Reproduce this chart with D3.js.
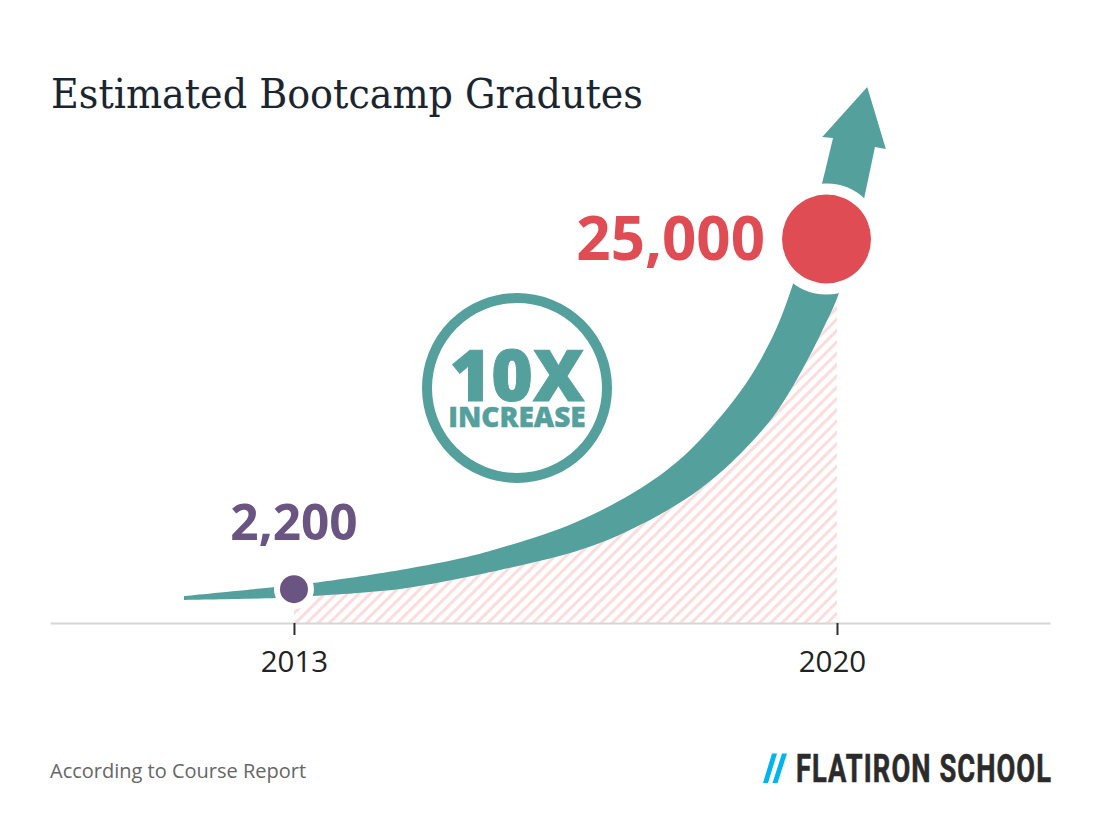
<!DOCTYPE html>
<html>
<head>
<meta charset="utf-8">
<script src="https://cdn.jsdelivr.net/npm/d3@7"></script>
<style>
  html, body { margin: 0; padding: 0; background: #fff; }
  svg { display: block; }
</style>
</head>
<body>
<div id="chart"></div>
<script>
// tick labels and the two labelled points
const tickYears = [2013, 2020];
const pointYears = [2013, 2019.865];
const pointValues = [2200, 25000];
const pointLabels = ["2,200", "25,000"];

// upper edge of the arrow band, tail to head
const upperYears = [2011.582, 2012.756, 2013.245, 2014.367, 2015.230, 2015.656, 2016.081, 2016.519, 2016.945, 2017.370, 2017.809, 2018.234, 2018.814, 2019.136, 2019.291, 2019.433, 2019.626, 2019.807, 2019.949];
const upperValues = [1758, 2344, 2604, 3450, 4297, 4883, 5534, 6315, 7291, 8463, 9960, 11913, 15494, 18293, 20051, 22069, 25129, 28579, 31574];

// arrow head, left barb to inner notch
const headYears = [2019.81, 2020.39, 2020.63, 2020.49];
const headValues = [31639, 34894, 30857, 30988];

// lower edge of the band, head back to tail
const lowerYears = [2020.348, 2020.026, 2019.820, 2019.613, 2019.356, 2019.136, 2018.659, 2018.234, 2017.809, 2017.370, 2016.945, 2016.519, 2016.081, 2015.656, 2015.230, 2014.367, 2013.245, 2012.768, 2011.582];
const lowerValues = [27602, 21483, 19139, 17056, 14778, 13150, 10546, 8723, 7324, 6152, 5208, 4492, 3939, 3450, 2995, 2213, 1758, 1628, 1497];

// hatched area under the curve
const hatchYears = [2013, 2013.245, 2014.367, 2015.230, 2015.656, 2016.081, 2016.519, 2016.945, 2017.370, 2017.809, 2018.234, 2018.659, 2019.136, 2019.356, 2019.613, 2019.820, 2020];
const hatchValues = [1700, 1758, 2213, 2995, 3450, 3939, 4492, 5208, 6152, 7324, 8723, 10546, 13150, 14778, 17056, 19139, 21200];

const width = 1100, height = 833;
const teal = "#54a09d", red = "#e04c53", purple = "#6a5482";

const svg = d3.select("#chart").append("svg")
  .attr("width", width)
  .attr("height", height)
  .style("background-color", "white");

const xScale = d3.scaleLinear().domain([2009.855, 2022.746]).range([50, 1050]);
const yScale = d3.scaleLinear().domain([0, 25000]).range([623, 239]);

const edge = d3.line()
  .x(d => xScale(d[0]))
  .y(d => yScale(d[1]))
  .curve(d3.curveCatmullRom.alpha(0.5));

// diagonal hatch
const pattern = svg.append("defs").append("pattern")
  .attr("id", "hatch")
  .attr("patternUnits", "userSpaceOnUse")
  .attr("width", 8)
  .attr("height", 8)
  .attr("patternTransform", "rotate(45)");
pattern.append("rect")
  .attr("width", 3)
  .attr("height", 8)
  .attr("fill", "#fcdcdc");

const hatchArea = d3.area()
  .x(d => xScale(d[0]))
  .y0(yScale(0))
  .y1(d => yScale(d[1]))
  .curve(d3.curveCatmullRom.alpha(0.5));

svg.append("path")
  .datum(d3.zip(hatchYears, hatchValues))
  .attr("d", hatchArea)
  .attr("fill", "url(#hatch)");

// arrow: two curved edges joined by the straight head
const upperPath = edge(d3.zip(upperYears, upperValues));
const lowerPath = edge(d3.zip(lowerYears, lowerValues));
const headPath = d3.zip(headYears, headValues)
  .map(d => `L${xScale(d[0])},${yScale(d[1])}`).join("");

svg.append("path")
  .attr("d", upperPath + headPath + "L" + lowerPath.slice(1) + "Z")
  .attr("fill", teal);

// axis
const xAxis = d3.axisBottom(xScale)
  .tickValues(tickYears)
  .tickFormat(d3.format("d"))
  .tickSize(12)
  .tickSizeOuter(0)
  .tickPadding(16);

const axisG = svg.append("g")
  .attr("transform", `translate(0,${yScale(0)})`)
  .call(xAxis);
axisG.select(".domain").attr("stroke", "#d6d6d6").attr("stroke-width", 2);
axisG.selectAll(".tick line").attr("stroke", "#2b2f33").attr("stroke-width", 2);
axisG.selectAll(".tick text")
  .attr("fill", "#222")
  .attr("dx", d => d === 2020 ? -5 : 0)
  .style("font-family", "'Open Sans'")
  .style("font-size", "29.5px");

// labelled points with a white halo
const pointRadius = [14, 44.5];
const haloWidth = [6, 11];
svg.selectAll(".point")
  .data(pointValues)
  .enter().append("circle")
  .attr("class", "point")
  .attr("cx", (d, i) => xScale(pointYears[i]))
  .attr("cy", d => yScale(d))
  .attr("r", (d, i) => pointRadius[i])
  .attr("fill", (d, i) => i === 0 ? purple : red)
  .attr("stroke", "white")
  .attr("stroke-width", (d, i) => haloWidth[i] * 2)
  .attr("paint-order", "stroke");

svg.append("text")
  .attr("x", 294).attr("y", 540)
  .attr("text-anchor", "middle")
  .attr("fill", purple)
  .style("font", "700 49.5px 'Open Sans'")
  .text(pointLabels[0]);

svg.append("text")
  .attr("x", 765).attr("y", 260)
  .attr("text-anchor", "end")
  .attr("fill", red)
  .style("font", "700 60px 'Open Sans'")
  .text(pointLabels[1]);

// 10X badge
svg.append("circle")
  .attr("cx", 517).attr("cy", 388).attr("r", 90)
  .attr("fill", "white")
  .attr("stroke", teal)
  .attr("stroke-width", 10);

svg.append("text")
  .attr("x", 517).attr("y", 401)
  .attr("text-anchor", "middle")
  .attr("fill", teal)
  .attr("stroke", teal)
  .attr("stroke-width", 1)
  .style("font", "800 71px 'Open Sans'")
  .text("10X");

svg.append("text")
  .attr("x", 517).attr("y", 427)
  .attr("text-anchor", "middle")
  .attr("fill", teal)
  .attr("stroke", teal)
  .attr("stroke-width", 0.4)
  .style("font", "800 28px 'Open Sans'")
  .text("INCREASE");

// title and footer
svg.append("text")
  .attr("transform", "translate(51,108) scale(0.93,1)")
  .attr("fill", "#1a2530")
  .style("font", "400 41px 'DejaVu Serif'")
  .text("Estimated Bootcamp Gradutes");

svg.append("text")
  .attr("x", 50).attr("y", 778)
  .attr("fill", "#666")
  .style("font", "400 20px 'Open Sans'")
  .text("According to Course Report");

// logo
svg.append("path")
  .attr("d", "M763,783L768,783L777,753.5L772,753.5ZM772.5,783L777.5,783L787,753.5L782,753.5Z")
  .attr("fill", "#00b5ef");

svg.append("text")
  .attr("transform", "translate(796,782) scale(0.70,1)")
  .attr("fill", "#2b2b2b")
  .attr("stroke", "#2b2b2b")
  .attr("stroke-width", 0.6)
  .style("font", "700 39px 'Roboto'")
  .style("letter-spacing", "1.5px")
  .text("FLATIRON SCHOOL");
</script>
</body>
</html>
